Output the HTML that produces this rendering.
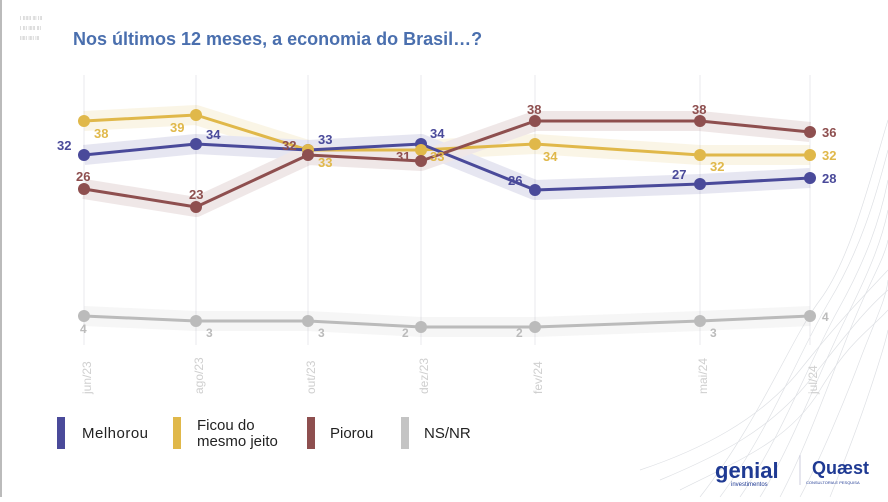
<!DOCTYPE html>
<html><head><meta charset="utf-8"><style>
body{margin:0;width:888px;height:497px;overflow:hidden;background:#fff;font-family:"Liberation Sans",sans-serif}
</style></head><body>
<svg width="888" height="497" viewBox="0 0 888 497" xmlns="http://www.w3.org/2000/svg">
<rect x="0" y="0" width="888" height="497" fill="#fff"/>
<line x1="1" y1="0" x2="1" y2="497" stroke="#bbb" stroke-width="2"/>
<g fill="none" stroke="#d6d9de" stroke-width="0.7" opacity="0.8">
<path d="M700 497 C760 420 790 340 820 300 S870 180 888 120"/>
<path d="M720 497 C770 430 800 350 830 300 S875 200 888 150"/>
<path d="M740 497 C780 440 810 360 838 310 S880 220 888 180"/>
<path d="M760 497 C790 450 820 370 845 320 S882 240 888 210"/>
<path d="M780 497 C805 450 830 380 850 330 S884 260 888 240"/>
<path d="M640 470 C700 450 760 420 800 370 S860 300 888 270"/>
<path d="M660 480 C720 455 770 430 810 380 S865 310 888 290"/>
<path d="M680 490 C740 460 790 440 820 390 S870 330 888 310"/>
<path d="M800 497 C820 460 845 400 860 360 S886 300 888 280"/>
<path d="M830 497 C845 460 860 420 870 390 S886 340 888 330"/>
</g>
<g fill="#bbb" font-size="5">
<text x="20" y="20">I IIIIII III III</text><text x="20" y="30">I III IIIII III</text><text x="20" y="40">IIIII IIII III</text>
</g>
<text x="73" y="45" font-size="18" font-weight="bold" fill="#4a6fae">Nos últimos 12 meses, a economia do Brasil…?</text>
<g stroke="#e8e8ec" stroke-width="1">
<line x1="84" y1="75" x2="84" y2="345"/><line x1="196" y1="75" x2="196" y2="345"/><line x1="308" y1="75" x2="308" y2="345"/><line x1="421" y1="75" x2="421" y2="345"/><line x1="535" y1="75" x2="535" y2="345"/><line x1="700" y1="75" x2="700" y2="345"/><line x1="810" y1="75" x2="810" y2="345"/>
</g>
<g fill="none" stroke-width="20" stroke-linejoin="round" opacity="0.13">
<polyline stroke="#e0b84a" points="84,121 196,115 308,150 421,150 535,144 700,155 810,155"/>
<polyline stroke="#4a4a9a" points="84,155 196,144 308,150 421,144 535,190 700,184 810,178"/>
<polyline stroke="#8e4f4f" points="84,189 196,207 308,155 421,161 535,121 700,121 810,132"/>
<polyline stroke="#bbb" points="84,316 196,321 308,321 421,327 535,327 700,321 810,316"/>
</g>
<g fill="none" stroke-width="3" stroke-linejoin="round">
<polyline stroke="#bbbbbb" points="84,316 196,321 308,321 421,327 535,327 700,321 810,316"/>
<polyline stroke="#e0b84a" points="84,121 196,115 308,150 421,150 535,144 700,155 810,155"/>
<polyline stroke="#4a4a9a" points="84,155 196,144 308,150 421,144 535,190 700,184 810,178"/>
<polyline stroke="#8e4f4f" points="84,189 196,207 308,155 421,161 535,121 700,121 810,132"/>
</g>
<g fill="#bbbbbb"><circle cx="84" cy="316" r="6"/><circle cx="196" cy="321" r="6"/><circle cx="308" cy="321" r="6"/><circle cx="421" cy="327" r="6"/><circle cx="535" cy="327" r="6"/><circle cx="700" cy="321" r="6"/><circle cx="810" cy="316" r="6"/></g>
<g fill="#4a4a9a"><circle cx="84" cy="155" r="6"/><circle cx="196" cy="144" r="6"/><circle cx="308" cy="150" r="6"/><circle cx="421" cy="144" r="6"/><circle cx="535" cy="190" r="6"/><circle cx="700" cy="184" r="6"/><circle cx="810" cy="178" r="6"/></g>
<g fill="#e0b84a"><circle cx="84" cy="121" r="6"/><circle cx="196" cy="115" r="6"/><circle cx="308" cy="150" r="6"/><circle cx="421" cy="150" r="6"/><circle cx="535" cy="144" r="6"/><circle cx="700" cy="155" r="6"/><circle cx="810" cy="155" r="6"/></g>
<g fill="#8e4f4f"><circle cx="84" cy="189" r="6"/><circle cx="196" cy="207" r="6"/><circle cx="308" cy="155" r="6"/><circle cx="421" cy="161" r="6"/><circle cx="535" cy="121" r="6"/><circle cx="700" cy="121" r="6"/><circle cx="810" cy="132" r="6"/></g>
<g font-size="13" font-weight="bold">
<g fill="#e0b84a"><text x="94" y="138">38</text><text x="170" y="132">39</text><text x="318" y="167">33</text><text x="430" y="161">33</text><text x="543" y="161">34</text><text x="710" y="171">32</text><text x="822" y="160">32</text></g>
<g fill="#4a4a9a"><text x="57" y="150">32</text><text x="206" y="139">34</text><text x="318" y="144">33</text><text x="430" y="138">34</text><text x="508" y="185">26</text><text x="672" y="179">27</text><text x="822" y="183">28</text></g>
<g fill="#8e4f4f"><text x="76" y="181">26</text><text x="189" y="199">23</text><text x="282" y="150">32</text><text x="396" y="161">31</text><text x="527" y="114">38</text><text x="692" y="114">38</text><text x="822" y="137">36</text></g>
<g fill="#bbbbbb" font-size="12"><text x="80" y="333">4</text><text x="206" y="337">3</text><text x="318" y="337">3</text><text x="402" y="337">2</text><text x="516" y="337">2</text><text x="710" y="337">3</text><text x="822" y="321">4</text></g>
</g>
<g font-size="12" fill="#cfcfcf">
<text transform="translate(91,394) rotate(-90)">jun/23</text>
<text transform="translate(203,394) rotate(-90)">ago/23</text>
<text transform="translate(315,394) rotate(-90)">out/23</text>
<text transform="translate(428,394) rotate(-90)">dez/23</text>
<text transform="translate(542,394) rotate(-90)">fev/24</text>
<text transform="translate(707,394) rotate(-90)">mai/24</text>
<text transform="translate(817,394) rotate(-90)">jul/24</text>
</g>
<rect x="57" y="417" width="8" height="32" fill="#4a4a9a"/>
<rect x="173" y="417" width="8" height="32" fill="#e0b84a"/>
<rect x="307" y="417" width="8" height="32" fill="#8e4f4f"/>
<rect x="401" y="417" width="8" height="32" fill="#c4c4c4"/>
<g font-size="15" fill="#222">
<text x="82" y="438" textLength="66">Melhorou</text>
<text x="197" y="430">Ficou do</text><text x="197" y="446">mesmo jeito</text>
<text x="330" y="438">Piorou</text>
<text x="424" y="438">NS/NR</text>
</g>
<text x="715" y="478" font-size="22" font-weight="bold" fill="#1f3a93">genial</text>
<text x="731" y="486" font-size="6" fill="#1f3a93">investimentos</text>
<line x1="800" y1="455" x2="800" y2="485" stroke="#ccd" stroke-width="1"/>
<text x="812" y="474" font-size="18" font-weight="bold" fill="#1f3a93">Quæst</text>
<text x="806" y="484" font-size="4" fill="#1f3a93">CONSULTORIA E PESQUISA</text>
</svg>
</body></html>
